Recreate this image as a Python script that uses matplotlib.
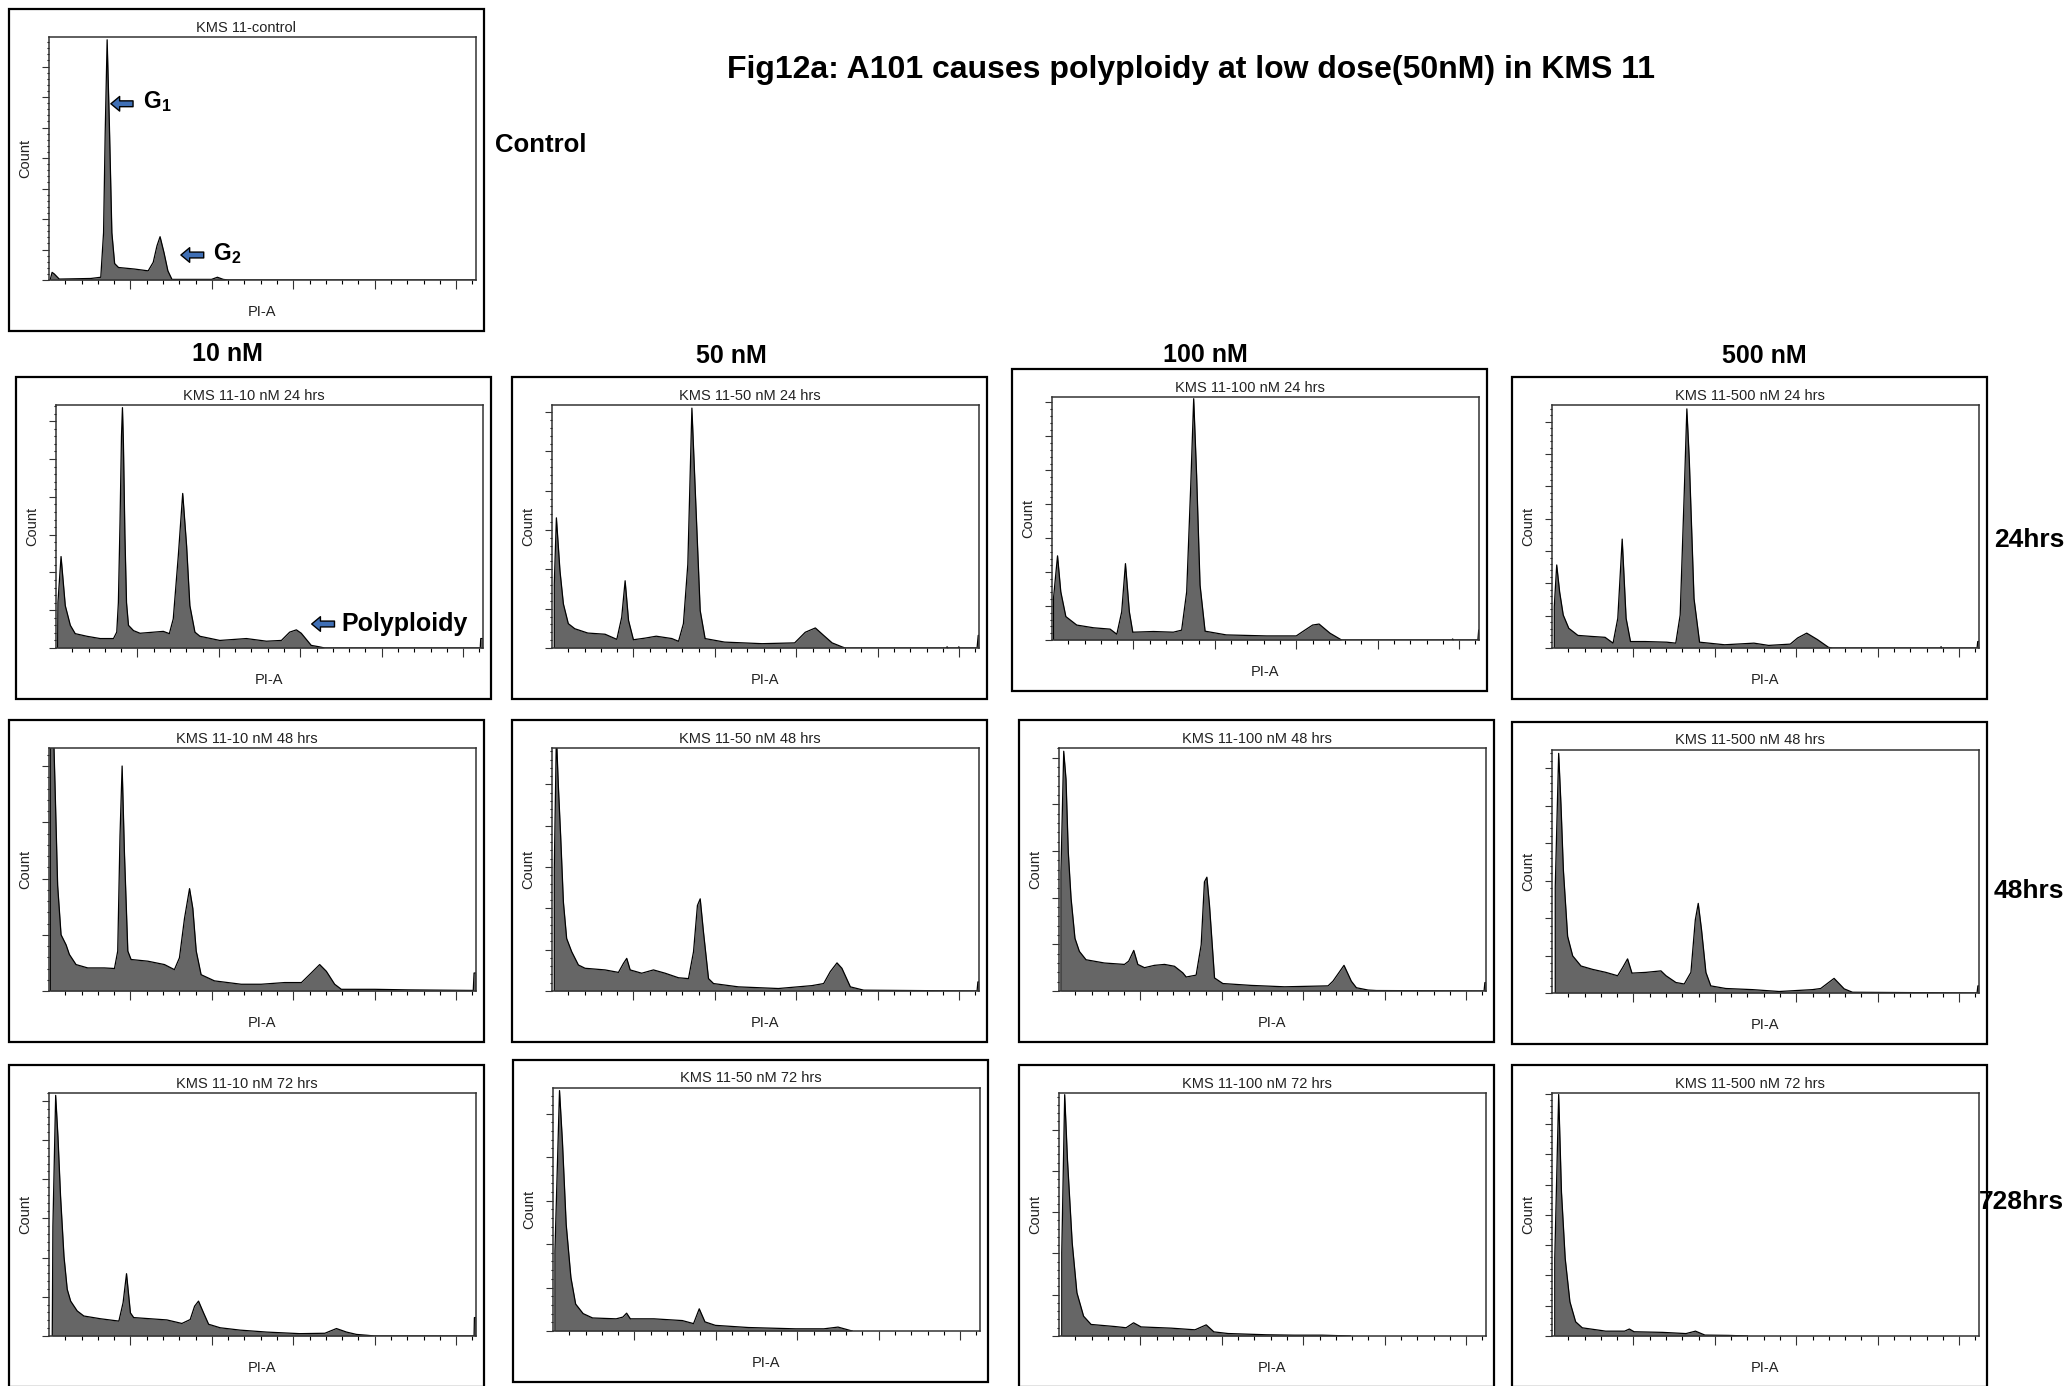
import matplotlib.pyplot as plt
from matplotlib.patches import Rectangle

# PI-A (x1000) and count values for each histogram
ctrl_pi = [0.7, 1.9, 3.2, 6.3, 25.7, 31.8, 33.5, 34.5, 35.7, 37.1, 38.6, 40.3, 42.7, 52.4, 60.9,
           64.0, 66.3, 68.2, 70.6, 73.0, 75.5, 99.8, 103.4, 107.0, 110.0, 262.0]
ctrl_count = [0, 25, 20, 3, 5, 9, 155, 481, 788, 503, 155, 54, 41, 36, 30,
              58, 112, 142, 90, 30, 2, 2, 9, 2, 0, 0]

nm10_24h_pi = [1.0, 1.2, 3.1, 5.7, 8.8, 11.8, 19.0, 27.1, 35.3, 37.3, 38.3, 39.3, 40.2, 40.8, 41.4,
               42.3, 43.3, 44.5, 47.6, 51.6, 65.9, 69.6, 72.0, 75.1, 77.8, 80.2, 82.2, 85.3, 88.4,
               100.6, 116.9, 129.2, 138.4, 143.5, 147.6, 150.6, 156.7, 161.8, 165.0, 260.5, 260.8, 262.0]
nm10_24h_count = [0, 121, 242, 112, 60, 38, 31, 25, 25, 42, 120, 330, 560, 636, 540,
                  300, 120, 60, 46, 39, 44, 38, 77, 244, 409, 270, 112, 42, 31,
                  20, 25, 18, 20, 42, 48, 39, 7, 3, 0, 0, 25, 25]

nm50_24h_pi = [1.4, 1.4, 2.7, 4.9, 7.0, 10.0, 14.0, 22.0, 32.6, 39.8, 42.8, 44.9, 47.0, 50.0, 57.0,
               64.0, 73.6, 77.7, 80.7, 83.4, 85.9, 87.9, 91.0, 94.0, 106.0, 129.0, 149.0, 155.5,
               161.7, 166.8, 172.0, 178.0, 180.0, 242.0, 242.6, 243.2, 249.3, 249.8, 250.3, 261.0,
               261.7, 262.0]
nm50_24h_count = [0, 163, 331, 196, 112, 62, 49, 38, 35, 22, 78, 171, 70, 21, 25,
                  30, 24, 17, 62, 213, 610, 407, 95, 24, 15, 11, 13, 40,
                  51, 32, 13, 3, 0, 0, 3, 0, 0, 3, 0, 0,
                  32, 32]

nm100_24h_pi = [0.9, 0.9, 3.4, 5.4, 8.5, 15.2, 25.5, 35.7, 39.8, 42.8, 45.1, 47.5, 49.6, 62.3, 74.5,
                79.6, 82.7, 85.2, 87.0, 88.8, 90.9, 94.0, 107.0, 131.8, 150.0, 154.0, 160.0, 164.0,
                170.7, 177.8, 245.5, 246.0, 246.5, 261.5, 262.0]
nm100_24h_count = [0, 122, 248, 142, 69, 44, 36, 32, 17, 83, 225, 83, 23, 25, 23,
                   29, 142, 456, 711, 485, 162, 26, 15, 12, 12, 25, 44, 47,
                   20, 0, 0, 3, 0, 0, 29]

nm500_24h_pi = [1.4, 1.4, 2.9, 4.7, 6.9, 10.3, 15.9, 23.7, 32.6, 37.5, 40.4, 43.1, 45.5, 48.2, 57.1,
                70.5, 76.0, 78.7, 81.2, 82.8, 84.3, 87.2, 90.6, 106.0, 124.0, 133.0, 146.3, 150.8,
                156.4, 163.0, 169.8, 172.0, 238.4, 238.9, 239.4, 261.0, 261.4, 262.0]
nm500_24h_count = [0, 128, 257, 173, 102, 61, 39, 36, 33, 15, 92, 337, 92, 20, 20,
                   18, 15, 102, 480, 740, 582, 153, 18, 10, 15, 8, 12, 31,
                   46, 26, 2, 0, 0, 4, 0, 0, 20, 20]

nm10_48h_pi = [0.8, 0.8, 2.7, 3.7, 5.3, 7.4, 10.5, 12.5, 16.6, 23.8, 34.0, 40.2, 42.2, 43.6, 44.9,
               46.3, 48.4, 50.4, 60.7, 70.9, 77.0, 80.1, 83.2, 86.3, 88.3, 90.4, 93.4, 101.6, 118.0,
               130.3, 144.7, 155.0, 161.0, 166.2, 170.3, 175.4, 179.5, 200.0, 220.5, 260.5, 261.0,
               262.0]
nm10_48h_count = [0, 480, 470, 365, 188, 100, 82, 65, 47, 41, 41, 40, 71, 276, 400,
                  247, 71, 56, 53, 47, 38, 59, 129, 182, 147, 71, 29, 18, 12,
                  12, 15, 15, 32, 47, 35, 12, 3, 3, 2, 1, 32,
                  32]

nm50_48h_pi = [1.4, 1.4, 2.7, 3.9, 5.3, 7.0, 9.0, 12.1, 16.2, 20.3, 32.6, 40.8, 43.9, 45.9, 48.0,
               55.1, 62.3, 69.5, 77.7, 83.8, 86.9, 89.3, 91.0, 93.0, 96.1, 99.2, 114.5, 139.0, 159.6,
               166.8, 170.9, 175.0, 178.0, 183.2, 191.4, 261.0, 261.5, 262.0]
nm50_48h_count = [0, 295, 620, 496, 376, 215, 127, 95, 63, 55, 51, 45, 67, 79, 51,
                  43, 51, 43, 32, 30, 95, 207, 223, 143, 30, 18, 10, 6, 13,
                  18, 47, 68, 55, 10, 2, 0, 22, 22]

nm100_48h_pi = [1.2, 1.2, 2.9, 4.3, 5.7, 7.4, 9.8, 12.5, 16.6, 27.9, 40.2, 42.8, 45.9, 48.4, 52.5,
                58.6, 64.8, 70.9, 76.0, 78.1, 84.2, 87.3, 89.3, 90.8, 92.4, 95.5, 100.6, 118.0, 138.5,
                165.2, 168.2, 175.0, 179.5, 182.6, 189.8, 194.9, 261.0, 261.5, 262.0]
nm100_48h_count = [0, 255, 514, 454, 298, 199, 113, 85, 67, 60, 57, 64, 87, 57, 50,
                   55, 57, 53, 39, 30, 34, 99, 234, 244, 184, 28, 16, 12, 9,
                   11, 21, 55, 21, 7, 2, 1, 0, 18, 18]

nm500_48h_pi = [2.0, 2.0, 4.1, 5.5, 7.0, 9.6, 12.7, 17.8, 24.9, 33.1, 40.3, 43.4, 46.4, 49.1, 57.7,
                66.9, 70.0, 76.1, 81.2, 85.3, 88.0, 89.8, 91.8, 94.5, 97.5, 106.7, 123.1, 139.5,
                160.0, 165.0, 173.2, 179.4, 184.5, 261.0, 261.5, 262.0]
nm500_48h_count = [0, 283, 639, 503, 327, 151, 99, 72, 63, 55, 46, 68, 91, 53, 55,
                   59, 46, 28, 24, 55, 195, 239, 169, 55, 19, 12, 9, 4,
                   9, 12, 39, 11, 2, 0, 19, 19]

nm10_72h_pi = [2.0, 2.4, 4.1, 5.5, 7.1, 9.2, 11.2, 13.3, 17.3, 21.4, 31.6, 42.9, 45.5, 47.6, 50.0,
               52.0, 62.2, 72.4, 81.6, 86.7, 89.4, 91.8, 94.9, 98.0, 105.1, 117.3, 133.7, 154.0,
               169.4, 176.5, 182.7, 188.8, 194.9, 200.0, 261.0, 261.2, 262.0]
nm10_72h_count = [0, 280, 614, 508, 356, 203, 119, 89, 64, 51, 44, 38, 85, 159, 59,
                  47, 44, 41, 32, 42, 76, 89, 59, 30, 21, 15, 10, 6,
                  7, 19, 10, 4, 2, 0, 0, 47, 47]

nm50_72h_pi = [1.2, 1.2, 4.0, 5.8, 8.1, 11.0, 13.9, 18.5, 24.3, 38.8, 42.9, 45.2, 47.5, 62.0, 79.4,
               86.3, 89.8, 93.3, 99.7, 119.9, 148.9, 166.3, 175.0, 180.8, 183.7]
nm50_72h_count = [0, 184, 553, 435, 245, 123, 62, 40, 30, 28, 32, 41, 28, 28, 24,
                  17, 51, 21, 13, 8, 5, 5, 9, 3, 0]

nm100_72h_pi = [1.7, 1.7, 3.5, 5.2, 8.1, 11.0, 15.1, 19.7, 34.2, 41.2, 45.8, 50.4, 69.0, 83.5, 90.4,
                95.1, 103.8, 127.0, 144.3, 161.7, 179.0]
nm100_72h_count = [0, 202, 585, 427, 226, 105, 48, 28, 23, 20, 32, 22, 19, 15, 27,
                   10, 6, 3, 2, 2, 0]

nm500_72h_pi = [1.7, 1.7, 4.1, 5.8, 8.1, 11.0, 14.5, 18.6, 33.0, 44.6, 47.5, 50.4, 67.8, 82.3, 88.1,
                93.9, 108.4, 120.0]
nm500_72h_count = [0, 256, 797, 476, 256, 113, 47, 27, 16, 16, 23, 14, 12, 8, 16,
                   3, 2, 0]

doses = ['10 nM', '50 nM', '100 nM', '500 nM']
times = ['24hrs', '48hrs', '728hrs']

W, H = 2069, 1386
FILL = '#666666'
NARROW = ['Liberation Sans Narrow', 'Liberation Sans', 'DejaVu Sans']

plt.rcParams['font.family'] = ['Liberation Sans', 'DejaVu Sans']
plt.rcParams['mathtext.fontset'] = 'custom'
plt.rcParams['mathtext.rm'] = 'Liberation Sans'
plt.rcParams['mathtext.bf'] = 'Liberation Sans:bold'

fig = plt.figure(figsize=(W / 100, H / 100), dpi=100)


def fx(px):
    return px / W


def fy(py):
    return 1 - py / H


def histogram_panel(left, top, title, pi, count, ymax):
    # outer frame of the exported plot
    fig.add_artist(Rectangle((fx(left), fy(top + 322)), 475 / W, 322 / H,
                             transform=fig.transFigure, fill=False, lw=1.6, ec='black'))
    ax = fig.add_axes([fx(left + 40), fy(top + 271), 426.7 / W, 243 / H])
    ax.fill_between(pi, count, color=FILL, lw=0)
    ax.plot(pi, count, color='black', lw=0.9)
    ax.set_xlim(0, 262)
    ax.set_ylim(0, ymax)
    ax.set_xticks(range(50, 251, 50))
    ax.set_xticks(range(10, 261, 10), minor=True)
    ax.set_yticks(range(0, int(ymax) + 1, 100))
    ax.set_yticks(range(0, int(ymax) + 1, 20), minor=True)
    ax.tick_params(labelbottom=False, labelleft=False, color='#333333')
    ax.tick_params(axis='x', which='major', length=6.5, width=0.8)
    ax.tick_params(axis='x', which='minor', length=3, width=0.8)
    ax.tick_params(axis='y', which='major', length=4.8, width=0.8)
    ax.tick_params(axis='y', which='minor', length=1.5, width=0.8)
    for sp in ax.spines.values():
        sp.set_linewidth(1.1)
        sp.set_color('#333333')
    fig.text(fx(left + 237.5), fy(top + 18.5), title, ha='center', va='center',
             fontsize=10.5, family=NARROW, color='#222222')
    fig.text(fx(left + 16.5), fy(top + 149.5), 'Count', rotation=90, ha='center', va='center',
             fontsize=10.5, family=NARROW, color='#222222')
    fig.text(fx(left + 253), fy(top + 303), 'PI-A', ha='center', va='center',
             fontsize=10.5, family=NARROW, color='#222222')
    return ax


def block_arrow(ax, tip, tail, y):
    ax.annotate('', xy=(tip, y), xytext=(tail, y),
                arrowprops=dict(arrowstyle='simple,head_width=0.75,head_length=0.45,tail_width=0.3',
                                fc='#3f6fb5', ec='black', lw=1.0, mutation_scale=14,
                                shrinkA=0, shrinkB=0))


ctrl_ax = histogram_panel(9, 9, 'KMS 11-control', ctrl_pi, ctrl_count, 797)
block_arrow(ctrl_ax, 38, 51.6, 578)
ctrl_ax.text(57.7, 585, r'$\mathbf{G_1}$', fontsize=16.5, va='center', ha='left')
block_arrow(ctrl_ax, 81, 95, 82)
ctrl_ax.text(101, 88, r'$\mathbf{G_2}$', fontsize=16.5, va='center', ha='left')

grid = [
    [(16, 377, nm10_24h_pi, nm10_24h_count, 643),
     (512, 377, nm50_24h_pi, nm50_24h_count, 618),
     (1012, 369, nm100_24h_pi, nm100_24h_count, 716),
     (1512, 377, nm500_24h_pi, nm500_24h_count, 752)],
    [(9, 720, nm10_48h_pi, nm10_48h_count, 432),
     (512, 720, nm50_48h_pi, nm50_48h_count, 588),
     (1019, 720, nm100_48h_pi, nm100_48h_count, 521),
     (1512, 722, nm500_48h_pi, nm500_48h_count, 648)],
    [(9, 1065, nm10_72h_pi, nm10_72h_count, 620),
     (513, 1060, nm50_72h_pi, nm50_72h_count, 559),
     (1019, 1065, nm100_72h_pi, nm100_72h_count, 589),
     (1512, 1065, nm500_72h_pi, nm500_72h_count, 802)],
]
hours = ['24', '48', '72']

axes = {}
for r, row in enumerate(grid):
    for c, (left, top, pi, count, ymax) in enumerate(row):
        title = f'KMS 11-{doses[c].replace(" nM", "")} nM {hours[r]} hrs'
        axes[(r, c)] = histogram_panel(left, top, title, pi, count, ymax)

poly_ax = axes[(0, 0)]
block_arrow(poly_ax, 157, 171, 63.5)
poly_ax.text(175.5, 63.5, 'Polyploidy', fontsize=18, fontweight='bold', va='center', ha='left')

fig.text(fx(1191), fy(70), 'Fig12a: A101 causes polyploidy at low dose(50nM) in KMS 11',
         ha='center', va='center', fontsize=23, fontweight='bold')
fig.text(fx(495), fy(145), 'Control', ha='left', va='center', fontsize=18.5, fontweight='bold')

for xc, yc, lab in zip([227, 731, 1205, 1764], [354, 356, 355, 356], doses):
    fig.text(fx(xc), fy(yc), lab, ha='center', va='center', fontsize=18, fontweight='bold')

for xl, yc, lab in zip([1994, 1994, 1979], [540, 891, 1202], times):
    fig.text(fx(xl), fy(yc), lab, ha='left', va='center', fontsize=19, fontweight='bold')

fig.savefig('out.png', dpi=100)
